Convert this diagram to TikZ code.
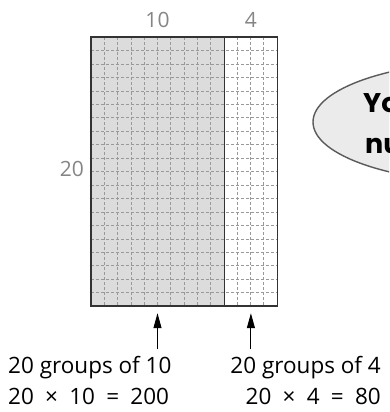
\documentclass[tikz,border=0pt]{standalone}
\usepackage{fontspec}
\setmainfont{Open Sans}
\newfontfamily\bubblefont{Poppins}
\usetikzlibrary{arrows.meta,positioning}
\definecolor{edge}{HTML}{333333}
\definecolor{shade}{HTML}{DCDCDC}
\definecolor{numgray}{HTML}{858585}
\definecolor{bubble}{HTML}{EBEBEB}
\definecolor{rim}{HTML}{5A5A5A}

\begin{document}
\begin{tikzpicture}[x=1pt,y=-1pt,
  part/.style={inner sep=0pt, minimum height=269pt},
  cellgrid/.style={gray!80, line width=0.5pt, dash pattern=on 3pt off 2pt},
  dimlabel/.style={text=numgray, inner sep=0pt, font=\fontsize{21}{24}\selectfont},
  sumtext/.style={inner sep=0pt, font=\fontsize{22.5}{26}\selectfont},
  pointer/.style={-{Triangle[length=15pt,width=8pt]}, line width=1pt}]
  \clip (0,0) rectangle (389,412);

  % the two parts of the array
  \node[part, fill=shade, minimum width=133pt] (tens) at (157.5,171.5) {};
  \node[part, minimum width=53pt, right=0pt of tens] (fours) {};
  \foreach \i in {1,...,13}
    \draw[cellgrid] (91+\i*13.286,37) -- ++(0,269);
  \foreach \j in {1,...,19}
    \draw[cellgrid] (91,37+\j*13.45) -- ++(186,0);
  \draw[edge, line width=1.6pt] (tens.north west) rectangle (fours.south east);
  \draw[edge, line width=1.4pt] (tens.north east) -- (tens.south east);

  % side lengths
  \node[dimlabel, anchor=base] (topten) at (tens.north |- 0,28) {10};
  \node[dimlabel, anchor=base] (topfour) at (fours.north |- 0,28) {4};
  \node[dimlabel, anchor=east] (sidetwenty) at (84,169) {20};

  % speech bubble
  \draw[rim, fill=bubble, line width=1.4pt] (493,122) ellipse [x radius=180, y radius=61];
  \node[anchor=base west, inner sep=0pt, font=\bubblefont\bfseries\fontsize{27}{30}\selectfont]
    (bubbleone) at (363,112) {You};
  \node[anchor=base west, inner sep=0pt, font=\bubblefont\bfseries\fontsize{27}{30}\selectfont]
    (bubbletwo) at (365,153) {num};

  % partial products
  \node[sumtext, anchor=base west] (tenslabel) at (8,373) {20 groups of 10};
  \node[sumtext, anchor=base west] (tensproduct) at (8,404)
    {20\hspace{0.5em}×\hspace{0.5em}10\hspace{0.5em}=\hspace{0.5em}200};
  \node[sumtext, anchor=base east] (fourslabel) at (381,373) {20 groups of 4};
  \node[sumtext, anchor=base east] (foursproduct) at (381,404)
    {20\hspace{0.5em}×\hspace{0.5em}4\hspace{0.5em}=\hspace{0.5em}80};

  \coordinate (tenstip) at ([yshift=-7pt]tens.south);
  \coordinate (fourstip) at ([yshift=-7pt]fours.south);
  \draw[pointer] (tenstip |- 0,349) -- (tenstip);
  \draw[pointer] (fourstip |- 0,349) -- (fourstip);
\end{tikzpicture}
\end{document}
